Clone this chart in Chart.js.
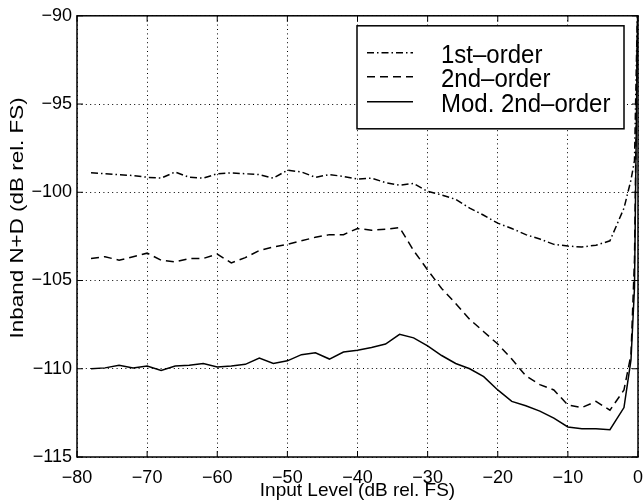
<!DOCTYPE html>
<html>
<head>
<meta charset="utf-8">
<script src="https://cdn.jsdelivr.net/npm/chart.js@4.4.0/dist/chart.umd.min.js"></script>
<style>
  html, body { margin: 0; padding: 0; background: #fff; }
  #wrap { width: 644px; height: 502px; }
</style>
</head>
<body>
<div id="wrap"><canvas id="chart"></canvas></div>
<script>
"use strict";

// Input level, dB rel. FS (shared by all three curves).
const levels = [
  -78, -76, -74, -72, -70, -68, -66, -64, -62, -60,
  -58, -56, -54, -52, -50, -48, -46, -44, -42, -40,
  -38, -36, -34, -32, -30, -28, -26, -24, -22, -20,
  -18, -16, -14, -12, -10, -8, -6, -4, -2,
  -1, -0.5, 0];

// Inband N+D, dB rel. FS.
const firstOrder = [
  -98.9, -98.95, -99.0, -99.05, -99.15, -99.2, -98.85, -99.15, -99.2, -98.95,
  -98.9, -98.95, -99.0, -99.2, -98.75, -98.85, -99.15, -99.0, -99.1, -99.25,
  -99.2, -99.45, -99.6, -99.5, -99.95, -100.15, -100.4, -100.9, -101.3, -101.75,
  -102.05, -102.4, -102.65, -102.95, -103.05, -103.1, -103.0, -102.75, -100.9,
  -99.3, -98.2, -88];
const secondOrder = [
  -103.75, -103.65, -103.85, -103.65, -103.45, -103.85, -103.95, -103.75, -103.75, -103.5,
  -104.0, -103.7, -103.3, -103.1, -102.95, -102.75, -102.55, -102.4, -102.4, -102.05,
  -102.15, -102.1, -102.0, -103.3, -104.4, -105.45, -106.3, -107.2, -107.9, -108.6,
  -109.45, -110.4, -110.9, -111.2, -112.05, -112.2, -111.85, -112.35, -111.2,
  -109.2, -103.8, -88];
const modSecond = [
  -110.0, -109.95, -109.8, -109.95, -109.85, -110.1, -109.85, -109.8, -109.7, -109.9,
  -109.85, -109.75, -109.4, -109.7, -109.55, -109.2, -109.1, -109.45, -109.05, -108.95,
  -108.8, -108.6, -108.05, -108.25, -108.7, -109.25, -109.7, -110.0, -110.45, -111.2,
  -111.85, -112.1, -112.4, -112.8, -113.3, -113.4, -113.4, -113.45, -112.2,
  -109.5, -105.4, -88];

const seriesNames = ["1st\u2013order", "2nd\u2013order", "Mod. 2nd\u2013order"];
const xLimits = [-80, 0];
const yLimits = [-115, -90];
const xTitle = "Input Level (dB rel. FS)";
const yTitle = "Inband N+D (dB rel. FS)";

const FONT = "'Liberation Sans', Arial, Helvetica, sans-serif";
const DASHES = [[7, 3, 1.5, 3], [8, 5], []];
const TICK = 6;

const pts = (ys) => levels.map((x, i) => ({ x, y: ys[i] }));
const minus = (v) => String(v).replace("-", "\u2212");

// Рамка, внутренние засечки, легенда и подпись оси Y в стиле MATLAB.
const matlabFrame = {
  id: "matlabFrame",
  afterDatasetsDraw(chart) {
    const { ctx, chartArea: a, scales: { x, y } } = chart;
    ctx.save();
    ctx.strokeStyle = "#000";
    ctx.lineWidth = 1;
    ctx.beginPath();
    x.ticks.forEach((t) => {
      const px = x.getPixelForValue(t.value);
      ctx.moveTo(px, a.bottom); ctx.lineTo(px, a.bottom - TICK);
      ctx.moveTo(px, a.top); ctx.lineTo(px, a.top + TICK);
    });
    y.ticks.forEach((t) => {
      const py = y.getPixelForValue(t.value);
      ctx.moveTo(a.left, py); ctx.lineTo(a.left + TICK, py);
      ctx.moveTo(a.right, py); ctx.lineTo(a.right - TICK, py);
    });
    ctx.stroke();
    ctx.lineWidth = 1.5;
    ctx.strokeRect(a.left, a.top, a.right - a.left, a.bottom - a.top);

    // legend box
    const bw = 267, bh = 103;
    const bx = a.right - 14 - bw, by = a.top + 10;
    ctx.fillStyle = "#fff";
    ctx.fillRect(bx, by, bw, bh);
    ctx.strokeRect(bx, by, bw, bh);
    const rows = [27, 51, 76];
    chart.data.datasets.forEach((ds, i) => {
      const ly = by + rows[i];
      ctx.lineWidth = ds.borderWidth;
      ctx.setLineDash(ds.borderDash);
      ctx.beginPath();
      ctx.moveTo(bx + 10, ly);
      ctx.lineTo(bx + 56, ly);
      ctx.stroke();
      ctx.setLineDash([]);
      ctx.save();
      ctx.translate(bx + 84, ly + 10);
      ctx.scale(1, 1.1);
      ctx.fillStyle = "#000";
      ctx.font = "24px " + FONT;
      ctx.textBaseline = "alphabetic";
      ctx.fillText(ds.label, 0, 0);
      ctx.restore();
    });
    ctx.restore();
  },
  afterDraw(chart) {
    const { ctx, chartArea: a } = chart;
    ctx.save();
    ctx.translate(18, a.top + (a.bottom - a.top) * 0.458);
    ctx.rotate(-Math.PI / 2);
    ctx.scale(1.18, 1);
    ctx.fillStyle = "#000";
    ctx.font = "19px " + FONT;
    ctx.textAlign = "center";
    ctx.textBaseline = "middle";
    ctx.fillText(yTitle, 0, 0);
    ctx.restore();
  },
};

const seriesData = [firstOrder, secondOrder, modSecond];

new Chart(document.getElementById("chart"), {
  type: "scatter",
  data: {
    datasets: seriesData.map((ys, i) => ({
      label: seriesNames[i],
      data: pts(ys),
      showLine: true,
      borderColor: "#000",
      backgroundColor: "#000",
      borderWidth: 1.5,
      borderDash: DASHES[i],
      pointRadius: 0,
      tension: 0,
    })),
  },
  options: {
    responsive: true,
    maintainAspectRatio: false,
    animation: false,
    devicePixelRatio: 1,
    layout: { padding: { top: 15, right: 6, left: 0, bottom: 0 } },
    plugins: { legend: { display: false }, tooltip: { enabled: false } },
    scales: {
      x: {
        type: "linear",
        min: xLimits[0], max: xLimits[1],
        afterFit: (s) => { s.height = 45; s.paddingLeft = 0; s.paddingRight = 0; },
        ticks: { stepSize: 10, padding: 10, color: "#000",
          font: { family: FONT, size: 18 }, callback: minus },
        grid: { color: "#000", lineWidth: 1, drawTicks: false },
        border: { display: false, dash: [1, 3.4] },
        title: { display: true, text: xTitle, color: "#000",
          font: { family: FONT, size: 19 }, padding: { top: 0, bottom: 0 } },
      },
      y: {
        min: yLimits[0], max: yLimits[1],
        afterFit: (s) => { s.width = 77; },
        ticks: { stepSize: 5, padding: 5, color: "#000",
          font: { family: FONT, size: 18 }, callback: minus },
        grid: { color: "#000", lineWidth: 1, drawTicks: false },
        border: { display: false, dash: [1, 3.4] },
      },
    },
  },
  plugins: [matlabFrame],
});
</script>
</body>
</html>
